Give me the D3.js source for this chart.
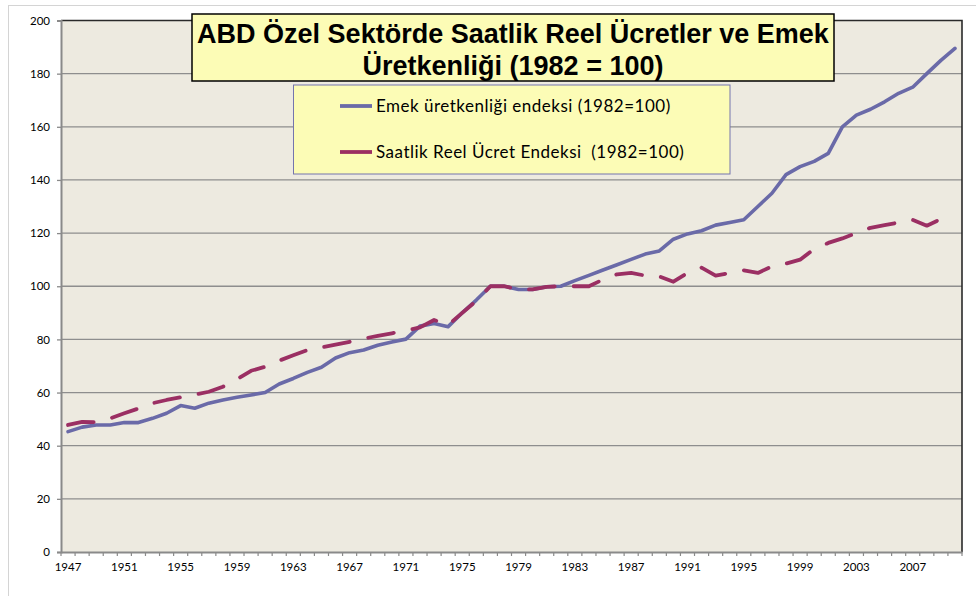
<!DOCTYPE html>
<html><head><meta charset="utf-8">
<script src="https://cdn.jsdelivr.net/npm/d3@7"></script>
<style>body{margin:0;background:#fff;} svg{display:block;}</style>
</head><body>
<script>
const years = d3.range(1947, 2011);
const productivity = [45.3,47,47.8,47.8,48.7,48.7,50.3,52.2,55.1,54.1,56,57.2,58.2,59.1,60,63.2,65.3,67.6,69.5,73,75,76,77.8,79,80.1,85,86,84.8,90,94.8,100,100,98.8,98.8,99.8,100,102.1,104.1,106.1,108.1,110.1,112.1,113.3,117.7,119.7,120.9,123,124,125,130,135,142,145,147,150,160,164.4,166.6,169.4,172.6,174.9,180,185,189.5];
const wages = [47.8,49,48.8,50.3,52.2,54,56,57.2,58.2,59.2,60.3,62.2,65,68.2,69.7,72,74,76,77,78,79.1,80.3,81.3,82.3,83.3,84.5,87.3,85.4,90,94.5,100,100,98.8,98.8,99.8,100,100,100,102.5,104.5,105,104,103.7,101.7,105,107,104,105,106,105,107.5,108.5,110,114,116.3,118,120,122,123,124,125,122.8,125.3,124.7];
const yTicks = [0,20,40,60,80,100,120,140,160,180,200];
const xLabelYears = d3.range(1947, 2011, 4);
const titleLines = ["ABD Özel Sektörde Saatlik Reel Ücretler ve Emek", "Üretkenliği (1982 = 100)"];
const seriesNames = ["Emek üretkenliği endeksi (1982=100)", "Saatlik Reel Ücret Endeksi  (1982=100)"];

const W = 976, H = 596;
const L = 61, R = 962, T = 20.5, B = 552;
const blue = "#6a6aa8", red = "#9b2f63";

const svg = d3.select("body").append("svg").attr("width", W).attr("height", H);
svg.append("rect").attr("x", 8.5).attr("y", 5.5).attr("width", 1000).attr("height", 1000)
  .attr("fill", "#fff").attr("stroke", "#d4d4d4").attr("stroke-width", 1);

const x = d3.scaleBand().domain(years).range([L, R]).padding(0);
const y = d3.scaleLinear().domain([0, 200]).range([B, T]);
const cx = d => x(d) + x.bandwidth() / 2;

svg.append("rect").attr("x", L).attr("y", T).attr("width", R - L).attr("height", B - T).attr("fill", "#edeae0");

// gridlines
svg.append("g").selectAll("line").data(yTicks.filter(v => v > 0 && v < 200)).join("line")
  .attr("x1", L).attr("x2", R).attr("y1", d => y(d)).attr("y2", d => y(d))
  .attr("stroke", "#8e8e8e").attr("stroke-width", 1.3);

// plot border top/right
svg.append("path").attr("d", `M${L},${T}H${R}V${B}`).attr("fill", "none").attr("stroke", "#2a2a2a").attr("stroke-width", 1.6);

// y axis
const yAxis = svg.append("g").attr("transform", `translate(${L},0)`)
  .call(d3.axisLeft(y).tickValues(yTicks).tickSize(4).tickPadding(7));
yAxis.select(".domain").attr("stroke", "#8a8a8a").attr("stroke-width", 2);
yAxis.selectAll(".tick line").attr("stroke", "#8a8a8a").attr("stroke-width", 1.3);
yAxis.selectAll("text").attr("font-family", "Lato, sans-serif").attr("font-size", 11.5).attr("fill", "#000");

// x axis
const xAxis = svg.append("g").attr("transform", `translate(0,${B})`)
  .call(d3.axisBottom(x).tickValues(xLabelYears).tickSize(0).tickPadding(11));
xAxis.select(".domain").attr("stroke", "#8a8a8a").attr("stroke-width", 2);
xAxis.selectAll("text").attr("font-family", "Lato, sans-serif").attr("font-size", 11.5).attr("fill", "#000");
const boundaries = years.map(d => x(d)).concat([R]);
svg.append("g").selectAll("line").data(boundaries).join("line")
  .attr("x1", d => d).attr("x2", d => d).attr("y1", B).attr("y2", B + 4)
  .attr("stroke", "#8a8a8a").attr("stroke-width", 1.2);

// lines
const line = d3.line().x((d, i) => cx(years[i])).y(d => y(d));
svg.append("path").datum(productivity).attr("d", line).attr("fill", "none")
  .attr("stroke", blue).attr("stroke-width", 3.6).attr("stroke-linejoin", "round").attr("stroke-linecap", "round");
svg.append("path").datum(wages).attr("d", line).attr("fill", "none")
  .attr("stroke", red).attr("stroke-width", 3.8).attr("stroke-linejoin", "round").attr("stroke-linecap", "round")
  .attr("stroke-dasharray", "26,19");

// title box
svg.append("rect").attr("x", 192).attr("y", 14).attr("width", 642).attr("height", 67)
  .attr("fill", "#fcfcb6").attr("stroke", "#000").attr("stroke-width", 1.5);
svg.append("g").selectAll("text").data(titleLines).join("text")
  .attr("x", 513).attr("y", (d, i) => 42.5 + i * 32)
  .attr("text-anchor", "middle").attr("font-family", "'Liberation Sans', Arial, sans-serif")
  .attr("font-weight", "bold").attr("font-size", 27).attr("fill", "#000").text(d => d);

// legend box
svg.append("rect").attr("x", 293.5).attr("y", 85).attr("width", 436.5).attr("height", 89)
  .attr("fill", "#fcfcb6").attr("stroke", "#7575ad").attr("stroke-width", 1);
const lg = svg.append("g").selectAll("g").data(seriesNames).join("g")
  .attr("transform", (d, i) => `translate(0,${106 + i * 46})`);
lg.append("line").attr("x1", 340).attr("x2", 372).attr("y1", 0).attr("y2", 0)
  .attr("stroke", (d, i) => i === 0 ? blue : red).attr("stroke-width", 3.8);
lg.append("text").attr("x", 376).attr("y", 0).attr("dy", "0.35em")
  .style("white-space", "pre").attr("letter-spacing", 0.5)
  .attr("font-family", "Lato, sans-serif").attr("font-size", 17).attr("fill", "#000").text(d => d);
</script>
</body></html>
